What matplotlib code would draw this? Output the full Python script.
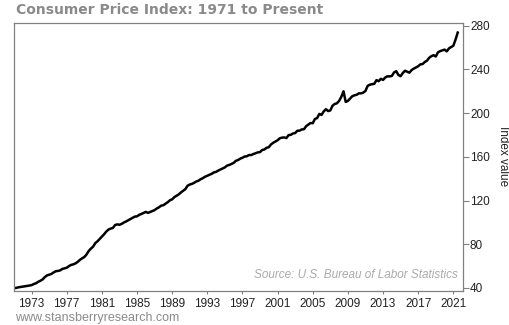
import matplotlib
matplotlib.use("Agg")
import matplotlib.pyplot as plt
import numpy as np

# quarterly CPI-U readings (Jan, Apr, Jul, Oct)
years = list(range(1971, 2022))
cpi_q = [
    [39.8, 40.1, 40.6, 40.9], [41.1, 41.4, 41.9, 42.3], [42.6, 43.6, 44.3, 45.6],
    [46.6, 47.8, 49.9, 51.5], [52.1, 52.8, 54.2, 55.3], [55.6, 56.1, 57.4, 58.0],
    [58.5, 60.0, 61.1, 61.6], [62.5, 63.9, 65.7, 67.1], [68.3, 70.6, 73.8, 76.0],
    [77.8, 81.0, 82.7, 84.8], [87.0, 89.1, 91.6, 93.4], [94.3, 94.9, 97.5, 98.2],
    [97.8, 98.6, 99.9, 100.8], [101.9, 103.1, 104.1, 105.3], [105.5, 106.9, 107.7, 108.7],
    [109.6, 108.7, 109.5, 110.3], [111.2, 112.7, 113.8, 115.3], [115.7, 117.1, 118.5, 120.2],
    [121.1, 123.1, 124.4, 125.6], [127.4, 128.9, 130.4, 133.5], [134.6, 135.2, 136.2, 137.4],
    [138.1, 139.5, 140.5, 141.8], [142.6, 143.6, 144.4, 145.7], [146.2, 147.4, 148.4, 149.5],
    [150.3, 151.9, 152.5, 153.5], [154.4, 156.3, 157.0, 158.3], [159.1, 160.2, 160.5, 161.6],
    [161.6, 162.5, 163.2, 164.0], [164.3, 166.2, 166.7, 168.2], [168.8, 171.3, 172.8, 174.0],
    [175.1, 176.9, 177.5, 177.7], [177.1, 179.8, 180.1, 181.3], [181.7, 183.8, 183.9, 185.0],
    [185.2, 188.0, 189.4, 190.9], [190.7, 194.6, 195.4, 199.2], [198.3, 201.5, 203.5, 201.8],
    [202.4, 206.7, 208.3, 208.9], [211.1, 214.8, 219.9, 210.2], [211.1, 213.2, 215.4, 216.2],
    [216.7, 218.0, 218.0, 218.7], [220.2, 224.9, 225.9, 226.4], [226.7, 230.1, 229.1, 231.3],
    [230.3, 232.5, 233.6, 233.5], [233.9, 237.1, 238.3, 234.8], [233.7, 236.6, 238.7, 237.8],
    [236.9, 239.3, 240.6, 241.7], [242.8, 244.5, 244.8, 246.7], [247.9, 250.5, 252.0, 252.9],
    [251.7, 255.5, 256.6, 257.3], [258.0, 256.4, 259.1, 260.4], [261.6, 267.1, 273.6],
]

x_ticks = list(range(1973, 2022, 4))
y_ticks = [40, 80, 120, 160, 200, 240, 280]

t = []
v = []
for yr, qs in zip(years, cpi_q):
    for i, val in enumerate(qs):
        t.append(yr + i * 0.25)
        v.append(val)

fig = plt.figure(figsize=(5.1, 3.25), dpi=100)
ax = fig.add_axes([14 / 510, 1 - 290.5 / 325, 449 / 510, 268 / 325])

ax.plot(t, v, color="black", lw=1.8, solid_joinstyle="round")

ax.set_xlim(1971.0, 2022.1)
ax.set_ylim(37.7, 282.8)
ax.set_xticks(x_ticks)
ax.set_yticks(y_ticks)
for s in ax.spines.values():
    s.set_color("#808080")
    s.set_linewidth(0.9)

ax.yaxis.tick_right()
ax.yaxis.set_label_position("right")
ax.tick_params(axis="y", length=4, color="#808080", labelsize=8.5,
               labelcolor="#222222", pad=1)
ax.tick_params(axis="x", length=2.5, color="#808080", labelsize=8.5,
               labelcolor="#222222", pad=3)
for lab in ax.get_xticklabels() + ax.get_yticklabels():
    lab.set_family("Liberation Sans")
ax.set_ylabel("Index value", rotation=270, labelpad=14, fontsize=8.5,
              family="Liberation Sans", color="#222222")

ax.text(0.988, 0.035, "Source: U.S. Bureau of Labor Statistics", transform=ax.transAxes,
        ha="right", va="bottom", fontsize=8.5, style="italic", color="#aaaaaa",
        family="Liberation Sans")

fig.text(16 / 510, 1 - 10 / 325, "Consumer Price Index: 1971 to Present",
         fontsize=10, fontweight="bold", color="#8a8a8a", va="center", ha="left",
         family="DejaVu Sans")
fig.text(15 / 510, 1 - 318 / 325, "www.stansberryresearch.com", fontsize=9,
         color="#8a8a8a", va="center", ha="left", family="Liberation Sans")

fig.savefig("out.png", dpi=100)
